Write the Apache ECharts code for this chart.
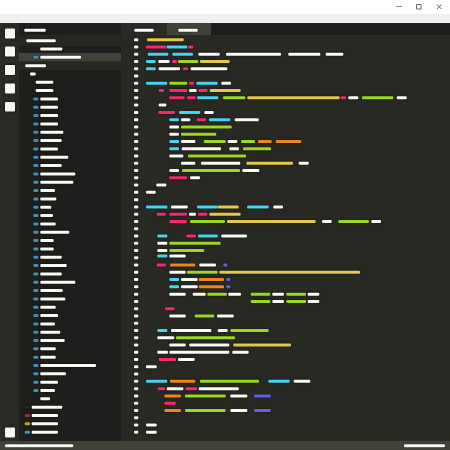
<!DOCTYPE html>
<html>
<head>
<meta charset="utf-8">
<style>
html, body { margin: 0; padding: 0; background: #fff; }
#main { width: 450px; height: 450px; }
</style>
<script src="https://cdn.jsdelivr.net/npm/echarts@6/dist/echarts.min.js"></script>
</head>
<body>
<div id="main"></div>
<script>
// every token is [line, start column, end column]
const gutterLines = [0,1,2,3,4,5,6,7,8,9,10,11,12,13,14,15,16,17,18,19,20,21,22,23,24,25,26,27,28,29,30,31,32,33,34,35,36,37,38,39,40,41,42,43,44,45,46,47,48,49,50,51,52,53,54];

const whiteTokens = [
    [2,198.3,219.7],[2,226,281],[2,288.3,320.3],[2,325.7,343.3],[3,158.3,169.7],[4,158.7,180],[4,190.7,227.3],
    [6,221.3,231],[7,189,196.7],[8,348.3,358.3],[8,396.7,406.7],[9,158.7,166.3],[10,204.3,213.7],
    [11,181,190.3],[11,234.7,258.7],[12,169.3,179],[13,169.3,179],[14,181,195.3],[14,227.7,237.3],
    [15,181.7,221],[15,229.3,239],[16,169.3,183.3],[17,181,195.3],[17,201,240.3],[17,298.7,308.7],
    [18,169.3,179],[18,242.3,259.3],[19,190,200],[20,156.3,166.3],[21,146,155.7],[23,171,187.7],[23,273.3,283],
    [24,189,196],[25,322,331.7],[25,371.3,381],[27,221.3,247],[28,157.3,167.3],[29,157.3,167.3],
    [29.74,169.3,185.7],[31,199.3,216],[32,169.3,185.7],[33,181,197.7],[34,181,197.7],
    [35,169.3,185.7],[35,192.7,205.7],[35,228.3,241],[35,272.3,284],[35,307.7,319.3],[36,272.3,284],[36,307.7,319.3],
    [38,169.3,185.7],[38,217,233.7],[40,171,211.3],[40,217.7,227.7],[41,157.3,174.3],[42,169.3,185.7],[42,189.3,229.3],
    [43,157.3,168],[43,169.3,229.3],[43,232.3,248.7],[44,178,194.7],[45,146,156.7],[47,293.7,310.3],
    [48,166.7,183.3],[48,198.7,238.7],[49,230.3,247.3],[51,230.3,247.3],[53,146,156.7],[54,146,156.7]
];
const pinkTokens = [
    [1,145.7,166.3],[1,188,193.3],[3,172,177],[4,183,188],[6,189,194],[7,158.7,164],[7,169.3,187.3],[7,198.3,207.7],
    [8,169.3,184.7],[8,187,195.7],[8,340.7,346],[10,158.3,175],[11,196.7,206],[19,169.3,187],[24,156.7,166],
    [24,169.3,187],[24,198,207.3],[25,169.3,187],[27,186.3,196],[31,156.7,166],[37,165,174.3],[44,158.7,176],
    [48,157.7,165],[48,185.7,197],[50,164.3,175.7]
];
const cyanTokens = [
    [1,166.7,187.3],[2,147.7,168.3],[2,172.3,193],[3,146,155.7],[4,146,155.7],[6,146,167.3],[6,196.3,217.7],
    [8,197,218.3],[10,179,200.3],[11,169.3,179],[11,209,230.3],[14,169.3,179],[15,169.3,179],[23,146,167.3],
    [23,197,218],[23,247,268.7],[27,157.3,167.3],[27,198,217.7],[29.74,157.3,167.3],[33,169.3,179],[34,169.3,179],
    [40,157.3,167.3],[47,146,167.3],[47,268.3,289.7]
];
const yellowTokens = [
    [0,147,183.7],[3,200,229.7],[7,209.7,240.7],[8,247.3,339.7],[17,246.3,293],[23,218,238.7],[24,209.3,240.7],
    [25,227,315.7],[32,219.3,360],[42,233.3,291]
];
const greenTokens = [
    [3,178,198.3],[6,169.3,187.3],[8,223,245.3],[8,362,393.3],[12,181,231.7],[13,181,216.3],[14,203.7,225.7],
    [14,241,255],[15,243,271],[16,188,246],[18,182,240],[25,190,225],[25,338.3,369],[28,169.3,220.7],[29,169.3,204.3],
    [32,187,217.7],[35,207.3,227],[35,250.7,270.3],[35,286.3,306],[36,250.7,270.3],[36,286.3,306],[38,194.7,214.3],
    [40,230.3,268.7],[41,176,235],[47,200,259],[49,185,225.7],[51,185,225.7]
];
const orangeTokens = [
    [14,258,271.7],[14,275.7,301.3],[31,170,195.3],[33,198.7,224],[34,198.7,224],[47,170,195.3],[49,164.3,181],[51,164.3,181]
];
const purpleTokens = [
    [31,223.3,227.3],[33,226.3,230.3],[34,226.3,230.3],[49,254,270.7],[51,254,270.7]
];

// file tree, same shape: [tree row, start, end]
const treeLabels = [
    [-0.24,24.3,45.7],[1,26.3,55.7],[2,40.3,62.3],[3,40.3,81],[4,25.3,46],[5,30,35.7],[6,35.7,53.3],[7,35.7,53.3],
    [8,40.3,58],[9,40.3,58],[10,40.3,58],[11,40.3,58],[12,40.3,63.3],[13,40.3,61.7],[14,40.3,58],[15,40.3,68.3],
    [16,40.3,61.7],[17,40.3,75.3],[18,40.3,73.3],[19,40.3,55],[20,40.3,56.3],[21,40.3,51.3],[22,40.3,53],[23,40.3,55.7],
    [24,40.3,69.3],[25,40.3,53.7],[26,40.3,53.7],[27,40.3,61.7],[28,40.3,66.7],[29,40.3,61.7],[30,40.3,75.3],[31,40.3,62.7],
    [32,40.3,65.3],[33,40.3,55.7],[34,40.3,58],[35,40.3,55],[36,40.3,60.3],[37,40.3,64.7],[38,40.3,55.7],[39,40.3,55.7],
    [40,40.3,96],[41,40.3,66],[42,40.3,58],[43,40.3,55],[44,40.3,50],[45,31.7,62.3],[46,31.7,58],[47,31.7,58],[48,31.7,58]
];
const treeBlueIcons = [
    [3,33.3,38.3],[8,33.3,38.3],[9,33.3,38.3],[10,33.3,38.3],[11,33.3,38.3],[12,33.3,38.3],[13,33.3,38.3],[14,33.3,38.3],
    [15,33.3,38.3],[16,33.3,38.3],[17,33.3,38.3],[18,33.3,38.3],[19,33.3,38.3],[20,33.3,38.3],[21,33.3,38.3],[22,33.3,38.3],
    [23,33.3,38.3],[24,33.3,38.3],[25,33.3,38.3],[26,33.3,38.3],[27,33.3,38.3],[28,33.3,38.3],[29,33.3,38.3],[30,33.3,38.3],
    [31,33.3,38.3],[32,33.3,38.3],[33,33.3,38.3],[34,33.3,38.3],[35,33.3,38.3],[36,33.3,38.3],[37,33.3,38.3],[38,33.3,38.3],
    [39,33.3,38.3],[40,33.3,38.3],[41,33.3,38.3],[42,33.3,38.3],[43,33.3,38.3],[48,24.7,30]
];
const treeDarkIcons = [[45,24.7,30]];
const treeRedIcons = [[46,24.7,30]];
const treeYellowIcons = [[47,24.7,30]];

// tab titles and status bar, row is the pixel height of the window
const chromeLabels = [[30.3,134.3,153.7],[30.3,178.3,197.7],[445.7,5,73.3],[445.7,404,445]];

const HALO = 'rgba(0,0,0,0.65)';

function tokenRender(height, color, halo) {
    return function (params, api) {
        let a = api.coord([api.value(1), api.value(0)]);
        let b = api.coord([api.value(2), api.value(0)]);
        return {
            type: 'rect',
            shape: { x: a[0], y: a[1] - height / 2, width: b[0] - a[0], height: height, r: 1 },
            style: { fill: color, shadowBlur: halo ? 2 : 0, shadowColor: HALO }
        };
    };
}

function tokenSeries(name, data, axis, color, height) {
    return {
        name: name,
        type: 'custom',
        xAxisIndex: 0,
        yAxisIndex: axis,
        data: data,
        encode: { x: [1, 2], y: 0 },
        clip: false,
        silent: true,
        renderItem: tokenRender(height || 3, color, true)
    };
}

function box(x, y, w, h, fill) {
    return { type: 'rect', z: 0, silent: true, shape: { x: x, y: y, width: w, height: h }, style: { fill: fill } };
}
function icon(y, h) {
    return { type: 'rect', z: 1, silent: true, shape: { x: 5, y: y, width: 10, height: h, r: 1 }, style: { fill: '#f8f8f2', shadowBlur: 3, shadowColor: HALO } };
}
function stroke(x1, y1, x2, y2, color) {
    return { type: 'line', z: 1, silent: true, shape: { x1: x1, y1: y1, x2: x2, y2: y2 }, style: { stroke: color, lineWidth: 1 } };
}

let chartDom = document.getElementById('main');
let myChart = echarts.init(chartDom, null, { renderer: 'canvas' });
let option;

option = {
    animation: false,
    backgroundColor: '#282923',
    grid: { left: 0, right: 0, top: 0, bottom: 0 },
    xAxis: { type: 'value', min: 0, max: 450, show: false },
    yAxis: [
        { type: 'value', min: 0, max: 450, inverse: true, show: false },       // window pixels
        { type: 'value', min: -5.46, max: 56.44, inverse: true, show: false }, // code lines
        { type: 'value', min: -3.878, max: 50.14, inverse: true, show: false } // tree rows
    ],
    graphic: [
        box(0, 0, 450, 14, '#ffffff'),
        box(0, 14, 450, 9, '#efefef'),
        box(0, 23, 19, 418, '#2a2b26'),
        box(19, 23, 102, 418, '#1e1f1c'),
        box(19, 35, 102, 11, '#272822'),
        box(19, 53, 102, 8.5, '#414339'),
        box(19, 61.5, 102, 8.5, '#272822'),
        box(121, 23, 46, 12, '#2a2b26'),
        box(167, 23, 44, 12, '#414339'),
        box(211, 23, 239, 12, '#1e1f1c'),
        box(0, 441, 450, 9, '#414339'),
        icon(28.5, 10), icon(46.5, 10), icon(65, 10), icon(83.5, 10), icon(102, 9.5), icon(427.5, 10),
        // window buttons
        box(396, 6, 6, 1, '#8a8a8a'),
        { type: 'rect', z: 1, silent: true, shape: { x: 416.5, y: 4.5, width: 4.5, height: 4.5 }, style: { fill: 'none', stroke: '#666', lineWidth: 1 } },
        stroke(437, 4.5, 441.5, 9, '#666'),
        stroke(441.5, 4.5, 437, 9, '#666')
    ],
    series: [
        tokenSeries('gutter', gutterLines.map(l => [l, 134, 138.3]), 1, '#f8f8f2'),
        tokenSeries('white', whiteTokens, 1, '#fbfbf6'),
        tokenSeries('pink', pinkTokens, 1, '#f92672'),
        tokenSeries('cyan', cyanTokens, 1, '#47d4ee'),
        tokenSeries('yellow', yellowTokens, 1, '#e5c94c'),
        tokenSeries('green', greenTokens, 1, '#9bd822'),
        tokenSeries('orange', orangeTokens, 1, '#f0861b'),
        tokenSeries('purple', purpleTokens, 1, '#6460ea'),
        tokenSeries('tree', treeLabels, 2, '#fbfbf6'),
        tokenSeries('treeBlue', treeBlueIcons, 2, '#3f8fb8'),
        tokenSeries('treeDark', treeDarkIcons, 2, '#262622'),
        tokenSeries('treeRed', treeRedIcons, 2, '#a8262e'),
        tokenSeries('treeYellow', treeYellowIcons, 2, '#b0aa20'),
        tokenSeries('chrome', chromeLabels, 0, '#fbfbf6')
    ]
};

option && myChart.setOption(option);
</script>
</body>
</html>
